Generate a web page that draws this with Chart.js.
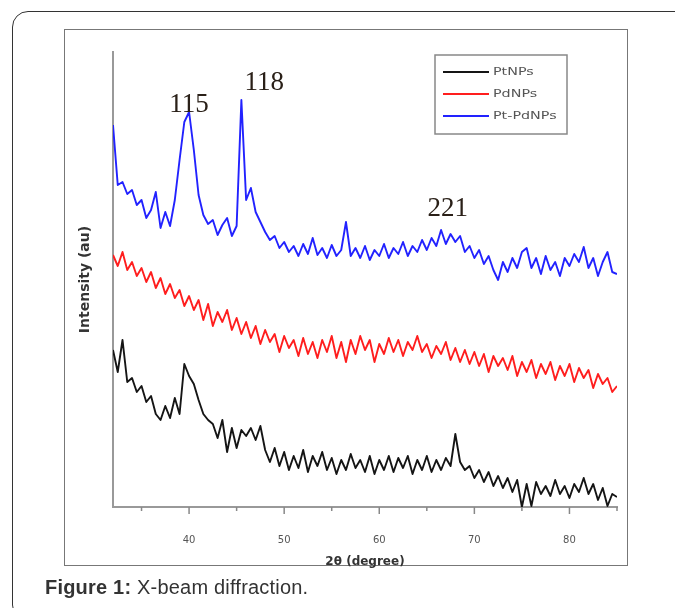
<!DOCTYPE html>
<html>
<head>
<meta charset="utf-8">
<script src="https://cdn.jsdelivr.net/npm/chart.js@4.4.1/dist/chart.umd.min.js"></script>
<style>
  body { margin: 0; background: #fff; width: 675px; height: 608px; overflow: hidden; position: relative; }
  #outer { position: absolute; left: 12px; top: 11px; width: 680px; height: 610px; border: 1.5px solid #333; border-radius: 16px; box-sizing: border-box; }
  #frame { position: absolute; left: 64px; top: 29px; width: 564px; height: 537px; border: 1.5px solid #777; box-sizing: border-box; }
  #caption { position: absolute; left: 45px; top: 576px; font: 20px "Liberation Sans", Arial, sans-serif; letter-spacing: 0.2px; color: #333; line-height: 22px; white-space: nowrap; }
  #xrd { position: absolute; left: 0; top: 0; }
</style>
</head>
<body>
<div id="outer"></div>
<div id="frame"></div>
<canvas id="xrd" width="675" height="608"></canvas>
<div id="caption"><b>Figure 1:</b> X-beam diffraction.</div>

<script>
// 2-theta sampling (degrees)
const twoTheta = [32,32.5,33,33.5,34,34.5,35,35.5,36,36.5,37,37.5,38,38.5,39,39.5,40,40.5,41,41.5,
  42,42.5,43,43.5,44,44.5,45,45.5,46,46.5,47,47.5,48,48.5,49,49.5,50,50.5,51,51.5,
  52,52.5,53,53.5,54,54.5,55,55.5,56,56.5,57,57.5,58,58.5,59,59.5,60,60.5,61,61.5,
  62,62.5,63,63.5,64,64.5,65,65.5,66,66.5,67,67.5,68,68.5,69,69.5,70,70.5,71,71.5,
  72,72.5,73,73.5,74,74.5,75,75.5,76,76.5,77,77.5,78,78.5,79,79.5,80,80.5,81,81.5,
  82,82.5,83,83.5,84,84.5,85];

// intensities (arbitrary units)
const ptNPs = [157,135,167,125,129,115,121,105,111,93,
  87,101,89,109,93,143,131,123,107,93,
  87,83,69,87,55,79,59,77,71,79,
  67,81,57,45,59,41,55,37,51,39,
  57,35,51,41,55,37,49,33,47,37,
  53,39,47,35,51,33,47,37,51,35,
  49,39,51,33,47,37,51,35,47,37,
  49,41,73,45,37,41,29,37,25,35,
  21,31,19,29,15,27,0,23,1,25,
  13,21,11,27,13,21,9,23,15,29,
  13,23,7,19,1,13,10];

const pdNPs = [252,241,255,237,245,231,239,225,235,219,
  229,213,223,209,217,201,211,197,207,187,
  203,181,195,185,197,177,189,173,185,169,
  181,163,177,165,173,155,171,159,167,151,
  169,153,165,149,167,155,171,149,165,145,
  167,153,171,157,167,145,163,153,169,155,
  167,151,165,157,171,155,163,149,161,153,
  165,147,159,145,157,143,155,141,153,135,
  151,141,149,137,151,131,145,135,147,129,
  143,133,145,127,141,131,143,125,139,129,
  137,119,133,123,129,115,121];

const ptPdNPs = [382,322,325,313,317,302,307,289,297,315,
  279,295,281,307,347,385,395,357,312,292,
  283,287,272,282,289,271,281,407,307,319,
  295,285,275,267,271,259,265,255,261,251,
  263,253,269,252,259,249,262,251,257,285,
  251,259,249,261,247,257,251,263,249,259,
  253,265,251,261,255,267,257,269,261,277,
  263,273,265,271,255,261,249,257,243,251,
  237,227,245,235,249,239,255,259,239,249,
  233,251,237,245,231,249,241,253,245,260,
  239,249,231,245,255,235,233];

const seriesNames = ['PtNPs', 'PdNPs', 'Pt-PdNPs'];
const seriesColors = ['#151515', '#ff1e1e', '#2222ff'];

// peak labels (hkl) and where they sit
const peakLabels = ['115', '118', '221'];
const peakX = [40.0, 47.9, 67.2];
const peakY = [395, 417, 291];

function toPoints(ys) {
  return ys.map((v, i) => ({ x: twoTheta[i], y: v }));
}

// small and big tick marks on the 2θ axis
const tickMarks = {
  id: 'tickMarks',
  afterDraw(chart) {
    const ctx = chart.ctx, xs = chart.scales.x;
    ctx.save();
    ctx.strokeStyle = '#888';
    ctx.lineWidth = 1.5;
    xs.ticks.forEach(t => {
      const px = xs.getPixelForValue(t.value);
      const len = t.value % 10 === 0 ? 7 : 4;
      ctx.beginPath();
      ctx.moveTo(px, xs.top);
      ctx.lineTo(px, xs.top + len);
      ctx.stroke();
    });
    ctx.restore();
  }
};

// hkl numbers above the peaks
const peakText = {
  id: 'peakText',
  afterDatasetsDraw(chart) {
    const ctx = chart.ctx;
    ctx.save();
    ctx.font = '27px "Liberation Serif", "Times New Roman", serif';
    ctx.fillStyle = '#2a2018';
    ctx.textAlign = 'center';
    ctx.textBaseline = 'alphabetic';
    peakLabels.forEach((lab, i) => {
      ctx.fillText(lab, chart.scales.x.getPixelForValue(peakX[i]), chart.scales.y.getPixelForValue(peakY[i]));
    });
    ctx.restore();
  }
};

// boxed legend inside the plot, top right
const boxLegend = {
  id: 'boxLegend',
  afterDatasetsDraw(chart) {
    const ctx = chart.ctx;
    ctx.save();
    ctx.fillStyle = '#fff';
    ctx.fillRect(435, 55, 132, 79);
    ctx.strokeStyle = '#888';
    ctx.lineWidth = 1.5;
    ctx.strokeRect(435, 55, 132, 79);
    const rows = [72, 94, 116];
    chart.data.datasets.forEach((ds, i) => {
      ctx.strokeStyle = ds.borderColor;
      ctx.lineWidth = 2;
      ctx.beginPath();
      ctx.moveTo(443, rows[i]);
      ctx.lineTo(489, rows[i]);
      ctx.stroke();
      ctx.save();
      ctx.translate(493, rows[i]);
      ctx.scale(1.3, 1);
      ctx.font = '11px "DejaVu Sans", sans-serif';
      ctx.fillStyle = '#555';
      ctx.textBaseline = 'middle';
      ctx.fillText(ds.label, 0, 0);
      ctx.restore();
    });
    ctx.restore();
  }
};

const xrdChart = new Chart('xrd', {
  type: 'line',
  data: {
    datasets: [
      { label: seriesNames[0], data: toPoints(ptNPs), borderColor: seriesColors[0] },
      { label: seriesNames[1], data: toPoints(pdNPs), borderColor: seriesColors[1] },
      { label: seriesNames[2], data: toPoints(ptPdNPs), borderColor: seriesColors[2] }
    ]
  },
  options: {
    responsive: false,
    animation: false,
    layout: { padding: { left: 0, top: 52, right: 58, bottom: 39 } },
    elements: {
      line: { borderWidth: 1.9, tension: 0, borderJoinStyle: 'round' },
      point: { radius: 0 }
    },
    plugins: {
      legend: { display: false },
      tooltip: { enabled: false }
    },
    scales: {
      x: {
        type: 'linear',
        min: 32,
        max: 85,
        border: { color: '#999', width: 2 },
        grid: { display: false },
        ticks: {
          stepSize: 5,
          includeBounds: false,
          autoSkip: false,
          maxRotation: 0,
          padding: 19,
          color: '#555',
          font: { family: 'DejaVu Sans', size: 10 },
          callback: v => (v % 10 === 0 ? v : '')
        },
        title: {
          display: true,
          text: '2θ (degree)',
          color: '#333',
          font: { family: 'DejaVu Sans', size: 12, weight: 'bold' },
          padding: { top: 0, bottom: 0 }
        },
        afterFit: s => { s.height = 62; }
      },
      y: {
        min: 0,
        max: 455,
        border: { color: '#999', width: 2 },
        grid: { display: false },
        ticks: { display: false },
        title: {
          display: true,
          text: 'Intensity (au)',
          color: '#333',
          font: { family: 'DejaVu Sans', size: 14, weight: 'bold' },
          padding: { top: 77, bottom: 0 }
        },
        afterFit: s => { s.width = 113; }
      }
    }
  },
  plugins: [tickMarks, peakText, boxLegend]
});
</script>
</body>
</html>
